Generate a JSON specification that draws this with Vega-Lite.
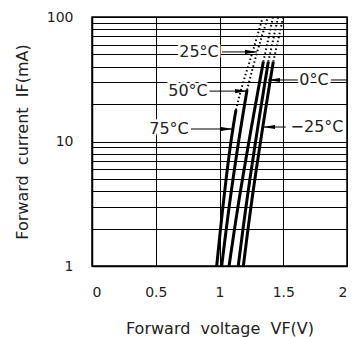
{
  "$schema": "https://vega.github.io/schema/vega-lite/v6.json",
  "width": 255,
  "height": 249,
  "autosize": {"type": "none"},
  "padding": {"left": 92, "top": 17, "right": 5, "bottom": 71},
  "background": "white",
  "config": {
    "font": "DejaVu Sans",
    "view": {"stroke": "black", "strokeWidth": 1.5},
    "axis": {
      "grid": true, "gridColor": "black", "gridWidth": 1, "gridOpacity": 1,
      "domainColor": "black", "domainWidth": 1.5, "ticks": false,
      "labelFont": "DejaVu Sans", "labelFontSize": 14, "labelColor": "#222",
      "titleFont": "DejaVu Sans", "titleFontSize": 16, "titleFontWeight": "normal", "titleColor": "#222",
      "labelPadding": 19
    }
  },
  "datasets": {
    "curves": [
      {"curve": "75", "seg": "solid", "V": 0.978, "I": 1},
      {"curve": "75", "seg": "solid", "V": 1.027, "I": 3},
      {"curve": "75", "seg": "solid", "V": 1.09, "I": 10},
      {"curve": "75", "seg": "solid", "V": 1.129, "I": 17.9},
      {"curve": "75", "seg": "dotted", "V": 1.129, "I": 17.9},
      {"curve": "75", "seg": "dotted", "V": 1.162, "I": 24.5},
      {"curve": "75", "seg": "dotted", "V": 1.24, "I": 45},
      {"curve": "75", "seg": "dotted", "V": 1.34, "I": 100},
      {"curve": "50", "seg": "solid", "V": 1.017, "I": 1},
      {"curve": "50", "seg": "solid", "V": 1.076, "I": 3},
      {"curve": "50", "seg": "solid", "V": 1.15, "I": 10},
      {"curve": "50", "seg": "solid", "V": 1.216, "I": 25.9},
      {"curve": "50", "seg": "dotted", "V": 1.216, "I": 25.9},
      {"curve": "50", "seg": "dotted", "V": 1.29, "I": 50},
      {"curve": "50", "seg": "dotted", "V": 1.38, "I": 100},
      {"curve": "25", "seg": "solid", "V": 1.075, "I": 1},
      {"curve": "25", "seg": "solid", "V": 1.145, "I": 3},
      {"curve": "25", "seg": "solid", "V": 1.231, "I": 10},
      {"curve": "25", "seg": "solid", "V": 1.344, "I": 43.8},
      {"curve": "25", "seg": "dotted", "V": 1.344, "I": 43.8},
      {"curve": "25", "seg": "dotted", "V": 1.42, "I": 100},
      {"curve": "0", "seg": "solid", "V": 1.147, "I": 1},
      {"curve": "0", "seg": "solid", "V": 1.208, "I": 3},
      {"curve": "0", "seg": "solid", "V": 1.283, "I": 10},
      {"curve": "0", "seg": "solid", "V": 1.383, "I": 43.8},
      {"curve": "0", "seg": "dotted", "V": 1.383, "I": 43.8},
      {"curve": "0", "seg": "dotted", "V": 1.46, "I": 100},
      {"curve": "-25", "seg": "solid", "V": 1.187, "I": 1},
      {"curve": "-25", "seg": "solid", "V": 1.247, "I": 3},
      {"curve": "-25", "seg": "solid", "V": 1.322, "I": 10},
      {"curve": "-25", "seg": "solid", "V": 1.422, "I": 43.8},
      {"curve": "-25", "seg": "dotted", "V": 1.422, "I": 43.8},
      {"curve": "-25", "seg": "dotted", "V": 1.5, "I": 100}
    ],
    "arrows": [
      {"V1": 1.02, "V2": 1.294, "I": 52.4, "tip": 1.294, "dir": "r"},
      {"V1": 0.918, "V2": 1.216, "I": 25.4, "tip": 1.216, "dir": "r"},
      {"V1": 0.776, "V2": 1.106, "I": 12.6, "tip": 1.106, "dir": "r"},
      {"V1": 1.38, "V2": 1.616, "I": 31.2, "tip": 1.38, "dir": "l"},
      {"V1": 1.875, "V2": 2.0, "I": 31.2, "tip": null, "dir": "l"},
      {"V1": 1.341, "V2": 1.52, "I": 13.07, "tip": 1.341, "dir": "l"}
    ],
    "labels": [
      {"text": "25°C", "V": 0.839, "I": 52.4},
      {"text": "50°C", "V": 0.753, "I": 25.4},
      {"text": "75°C", "V": 0.604, "I": 12.6},
      {"text": "0°C", "V": 1.741, "I": 31.2},
      {"text": "−25°C", "V": 1.765, "I": 13.07}
    ]
  },
  "encoding": {
    "x": {"type": "quantitative", "scale": {"domain": [0, 2], "nice": false, "zero": false}},
    "y": {"type": "quantitative", "scale": {"type": "log", "domain": [1, 100], "nice": false}}
  },
  "layer": [
    {
      "data": {"name": "curves"},
      "mark": {"type": "line", "color": "black", "interpolate": "monotone", "clip": true, "strokeCap": "butt"},
      "encoding": {
        "x": {"field": "V", "type": "quantitative",
          "axis": {"values": [0, 0.5, 1, 1.5, 2], "format": "~g", "title": "Forward\u00a0\u00a0voltage\u00a0\u00a0VF(V)", "titlePadding": 21}},
        "y": {"field": "I", "type": "quantitative",
          "axis": {"values": [1, 2, 3, 4, 5, 6, 7, 8, 9, 10, 20, 30, 40, 50, 60, 70, 80, 90, 100],
            "labelExpr": "datum.value == 1 || datum.value == 10 || datum.value == 100 ? datum.label : ''",
            "format": "d",
            "title": "Forward\u00a0\u00a0current\u00a0\u00a0IF(mA)", "titlePadding": 16}},
        "detail": {"field": "curve"},
        "order": {"field": "V", "type": "quantitative"},
        "strokeDash": {"field": "seg", "type": "nominal", "scale": {"domain": ["solid", "dotted"], "range": [[1, 0], [1.5, 2.5]]}, "legend": null},
        "strokeWidth": {"field": "seg", "type": "nominal", "scale": {"domain": ["solid", "dotted"], "range": [3, 2]}, "legend": null}
      }
    },
    {
      "data": {"name": "arrows"},
      "mark": {"type": "rule", "color": "black", "strokeWidth": 1},
      "encoding": {
        "x": {"field": "V1", "type": "quantitative"},
        "x2": {"field": "V2"},
        "y": {"field": "I", "type": "quantitative"}
      }
    },
    {
      "data": {"name": "arrows"},
      "transform": [{"filter": "datum.tip != null"}],
      "mark": {"type": "point", "filled": true, "color": "black", "size": 144, "opacity": 1},
      "encoding": {
        "x": {"field": "tip", "type": "quantitative"},
        "y": {"field": "I", "type": "quantitative"},
        "shape": {"field": "dir", "type": "nominal", "scale": {"domain": ["r", "l"], "range": ["M-2,-0.35L0,0L-2,0.35Z", "M2,-0.35L0,0L2,0.35Z"]}, "legend": null}
      }
    },
    {
      "data": {"name": "labels"},
      "mark": {"type": "text", "fontSize": 16, "align": "center", "baseline": "middle", "stroke": "white", "strokeWidth": 5, "fill": "white"},
      "encoding": {
        "x": {"field": "V", "type": "quantitative"},
        "y": {"field": "I", "type": "quantitative"},
        "text": {"field": "text"}
      }
    },
    {
      "data": {"name": "labels"},
      "mark": {"type": "text", "fontSize": 16, "align": "center", "baseline": "middle", "color": "#222"},
      "encoding": {
        "x": {"field": "V", "type": "quantitative"},
        "y": {"field": "I", "type": "quantitative"},
        "text": {"field": "text"}
      }
    }
  ]
}
